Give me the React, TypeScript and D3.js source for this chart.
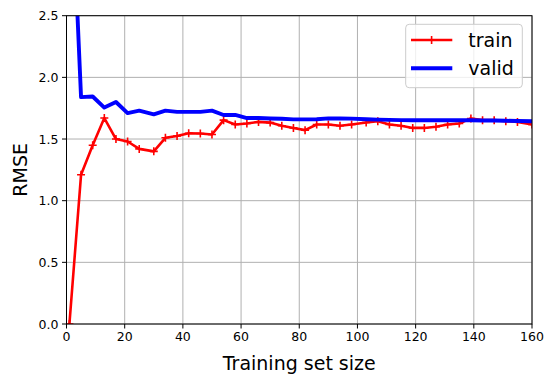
import React from "react";
import * as d3 from "d3";

const trainSizes = [1, 5, 9, 13, 17, 21, 25, 30, 34, 38, 42, 46, 50, 54, 58, 62, 66, 70, 74, 78, 82, 86, 90, 94, 98, 103, 107, 111, 115, 119, 123, 127, 131, 135, 139, 143, 147, 151, 155, 160];
const trainRmse = [0.0, 1.21, 1.45, 1.67, 1.5, 1.48, 1.42, 1.4, 1.51, 1.525, 1.547, 1.545, 1.537, 1.653, 1.618, 1.626, 1.639, 1.633, 1.607, 1.59, 1.572, 1.618, 1.618, 1.607, 1.618, 1.634, 1.645, 1.618, 1.607, 1.59, 1.59, 1.599, 1.618, 1.626, 1.667, 1.653, 1.653, 1.645, 1.639, 1.618];
const validRmse = [4.0, 1.84, 1.845, 1.755, 1.8, 1.71, 1.73, 1.7, 1.73, 1.72, 1.72, 1.72, 1.73, 1.695, 1.695, 1.67, 1.67, 1.666, 1.664, 1.659, 1.659, 1.66, 1.667, 1.667, 1.665, 1.66, 1.657, 1.655, 1.653, 1.652, 1.652, 1.652, 1.652, 1.652, 1.652, 1.65, 1.65, 1.648, 1.646, 1.644];
const xTicks = [0, 20, 40, 60, 80, 100, 120, 140, 160];
const yTicks = [0, 0.5, 1.0, 1.5, 2.0, 2.5];
const seriesNames = ["train", "valid"];
const xLabel = "Training set size";
const yLabel = "RMSE";

export default function App() {
  const W = 554, H = 381;
  const left = 66.5, right = 532, top = 15.7, bottom = 324;
  const x = d3.scaleLinear().domain([0, 160]).range([left, right]);
  const y = d3.scaleLinear().domain([0, 2.5]).range([bottom, top]);
  const font = "DejaVu Sans, sans-serif";

  const trainPts: [number, number][] = trainSizes.map((s, i) => [x(s), y(trainRmse[i])]);
  const validPts: [number, number][] = trainSizes.map((s, i) => [x(s), y(validRmse[i])]);
  const line = d3.line();

  const plus = (cx: number, cy: number, k: string) => (
    <path key={k} d={`M${cx - 4},${cy}H${cx + 4}M${cx},${cy - 4}V${cy + 4}`} stroke="#ff0000" strokeWidth={1.6} fill="none" />
  );

  return (
    <svg width={W} height={H} style={{ position: "absolute", left: 0, top: 0 }}>
      <defs>
        <clipPath id="plot">
          <rect x={left} y={top} width={right - left} height={bottom - top} />
        </clipPath>
      </defs>
      <rect x={0} y={0} width={W} height={H} fill="#fff" />
      {xTicks.map((t) => (
        <line key={"gx" + t} x1={x(t)} x2={x(t)} y1={top} y2={bottom} stroke="#b0b0b0" strokeWidth={1} />
      ))}
      {yTicks.map((t) => (
        <line key={"gy" + t} x1={left} x2={right} y1={y(t)} y2={y(t)} stroke="#b0b0b0" strokeWidth={1} />
      ))}
      <g clipPath="url(#plot)">
        <path d={line(trainPts) || ""} fill="none" stroke="#ff0000" strokeWidth={2.6} strokeLinejoin="round" />
        {trainPts.map((p, i) => plus(p[0], p[1], "m" + i))}
        <path d={line(validPts) || ""} fill="none" stroke="#0000ff" strokeWidth={3.9} strokeLinejoin="round" />
      </g>
      <rect x={left} y={top} width={right - left} height={bottom - top} fill="none" stroke="#000" strokeWidth={1} />
      {xTicks.map((t) => (
        <g key={"tx" + t}>
          <line x1={x(t)} x2={x(t)} y1={bottom} y2={bottom + 4.5} stroke="#000" strokeWidth={1} />
          <text x={x(t)} y={bottom + 8} dy="0.71em" textAnchor="middle" fontFamily={font} fontSize={12.5} fill="#000">{t}</text>
        </g>
      ))}
      {yTicks.map((t) => (
        <g key={"ty" + t}>
          <line x1={left - 4.5} x2={left} y1={y(t)} y2={y(t)} stroke="#000" strokeWidth={1} />
          <text x={left - 8} y={y(t)} dy="0.36em" textAnchor="end" fontFamily={font} fontSize={12.5} fill="#000">{t.toFixed(1)}</text>
        </g>
      ))}
      <text x={(left + right) / 2} y={370} textAnchor="middle" fontFamily={font} fontSize={19} fill="#000">{xLabel}</text>
      <text transform={`translate(26.5,${(top + bottom) / 2}) rotate(-90)`} textAnchor="middle" fontFamily={font} fontSize={19} fill="#000">{yLabel}</text>
      <g>
        <rect x={405.7} y={24.3} width={116.6} height={63.4} rx={3.5} fill="#fff" fillOpacity={0.8} stroke="#cccccc" strokeWidth={1} />
        <line x1={411} x2={452.3} y1={40} y2={40} stroke="#ff0000" strokeWidth={2.6} />
        {plus(431.6, 40, "lg")}
        <text x={468.3} y={40} dy="0.36em" fontFamily={font} fontSize={19} fill="#000">{seriesNames[0]}</text>
        <line x1={411} x2={452.3} y1={68.3} y2={68.3} stroke="#0000ff" strokeWidth={3.9} />
        <text x={468.3} y={68.3} dy="0.36em" fontFamily={font} fontSize={19} fill="#000">{seriesNames[1]}</text>
      </g>
    </svg>
  );
}
